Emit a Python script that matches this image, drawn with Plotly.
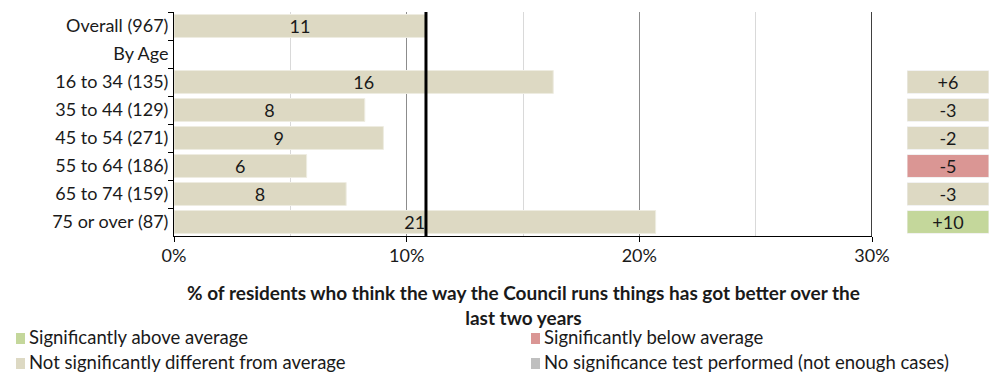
import plotly.graph_objects as go

# ---------------- data ----------------
categories = ["Overall (967)", "By Age", "16 to 34 (135)", "35 to 44 (129)",
              "45 to 54 (271)", "55 to 64 (186)", "65 to 74 (159)", "75 or over (87)"]
values = [10.83, None, 16.3, 8.2, 9.0, 5.7, 7.4, 20.7]
value_labels = ["11", "", "16", "8", "9", "6", "8", "21"]
diff_labels = [None, None, "+6", "-3", "-2", "-5", "-3", "+10"]
significance = [None, None, "ns", "ns", "ns", "below", "ns", "above"]
x_ticks = [0, 10, 20, 30]
average = values[0]

legend_items = ["Significantly above average", "Significantly below average",
                "Not significantly different from average",
                "No significance test performed (not enough cases)"]
legend_keys = ["above", "below", "ns", "none"]

# ---------------- style ----------------
W, H = 993, 374
ML, MR, MT, MB = 174, 4, 12, 138
PW, PH = W - ML - MR, H - MT - MB
FONT = "Lato"
FS = 18
TXT = "#1a1a1a"
COL = {"above": "#C4D79B", "below": "#DA9694", "ns": "#DDD9C3", "none": "#BFBFBF"}
BAR = "#DDD9C3"


def px_x(p):
    return (p - ML) / PW


def px_y(p):
    return (H - MB - p) / PH


main_right = 872
box_left = 907

fig = go.Figure()

fig.add_trace(go.Bar(
    y=categories, x=values, orientation="h",
    marker=dict(color=BAR, line=dict(color="#EEECE1", width=1)),
    width=0.82,
    text=value_labels, textposition="inside", insidetextanchor="middle",
    textangle=0,
    textfont=dict(family=FONT, size=FS, color=TXT), constraintext="none",
    xaxis="x", yaxis="y", showlegend=False, hoverinfo="skip",
    cliponaxis=False,
))

box_x = [1 if d is not None else None for d in diff_labels]
box_colors = [COL[s] if s else "rgba(0,0,0,0)" for s in significance]
fig.add_trace(go.Bar(
    y=categories, x=box_x, orientation="h",
    marker=dict(color=box_colors, line=dict(color="#F2F2F2", width=1)),
    width=0.82,
    text=[d if d else "" for d in diff_labels], textposition="inside",
    insidetextanchor="middle", textangle=0,
    textfont=dict(family=FONT, size=FS, color=TXT), constraintext="none",
    xaxis="x2", yaxis="y", showlegend=False, hoverinfo="skip",
))

fig.update_layout(
    width=W, height=H, autosize=False,
    margin=dict(l=ML, r=MR, t=MT, b=MB, pad=0, autoexpand=False),
    paper_bgcolor="white", plot_bgcolor="white",
    font=dict(family=FONT, size=FS, color=TXT),
    showlegend=False,
    xaxis=dict(
        domain=[0, px_x(main_right)], range=[0, 30],
        tickvals=x_ticks, ticktext=[f"{t}%" for t in x_ticks],
        showgrid=True, gridcolor="#8C8C8C", gridwidth=1,
        minor=dict(dtick=5, showgrid=True, gridcolor="#D9D9D9", gridwidth=1, tick0=0),
        showline=True, linecolor="black", linewidth=1,
        ticks="outside", ticklen=5, tickcolor="black",
        zeroline=False, fixedrange=True, automargin=False,
        tickfont=dict(family=FONT, size=FS, color=TXT),
        ticklabelstandoff=-2,
    ),
    xaxis2=dict(
        domain=[px_x(box_left), 1], range=[0, 1], anchor="y",
        showgrid=False, showticklabels=False, showline=False, zeroline=False,
        automargin=False,
    ),
    yaxis=dict(
        type="category", categoryorder="array", categoryarray=categories,
        range=[len(categories) - 0.5, -0.5],
        showline=True, linecolor="black", linewidth=1,
        ticks="outside", ticklen=5, tickcolor="black", tickson="boundaries",
        showgrid=False, zeroline=False, automargin=False,
        tickfont=dict(family=FONT, size=FS, color=TXT),
        ticklabelstandoff=1,
    ),
)

shapes = [
    dict(type="line", xref="x", yref="y domain", x0=average, x1=average, y0=0, y1=1,
         line=dict(color="black", width=3), layer="above"),
    dict(type="line", xref="x", yref="y domain", x0=30, x1=30, y0=0, y1=1,
         line=dict(color="black", width=1.5), layer="above"),
]

annotations = [
    dict(text="<b>% of residents who think the way the Council runs things has got better over the<br>last two years</b>",
         xref="x", yref="paper", x=15, y=px_y(305), xanchor="center", yanchor="middle",
         showarrow=False, font=dict(family=FONT, size=19, color=TXT), align="center"),
]

# (square left x, text left x, row centre y)
leg_pos = [(16, 27, 337), (531, 542, 337), (16, 27, 362), (531, 542, 362)]
for (sx, tx, ly), name, key in zip(leg_pos, legend_items, legend_keys):
    shapes.append(dict(type="rect", xref="paper", yref="paper",
                       x0=px_x(sx), x1=px_x(sx + 9), y0=px_y(ly - 4), y1=px_y(ly + 7),
                       fillcolor=COL[key], line=dict(width=0)))
    annotations.append(dict(text=name, xref="paper", yref="paper",
                            x=px_x(tx), y=px_y(ly), xanchor="left", yanchor="middle",
                            showarrow=False, font=dict(family=FONT, size=18.5, color=TXT)))

fig.update_layout(shapes=shapes, annotations=annotations)
fig.write_html(
    "out.html",
    config={"responsive": False, "displayModeBar": False},
    post_script="document.body.style.margin='0';document.body.style.overflow='hidden';",
)
